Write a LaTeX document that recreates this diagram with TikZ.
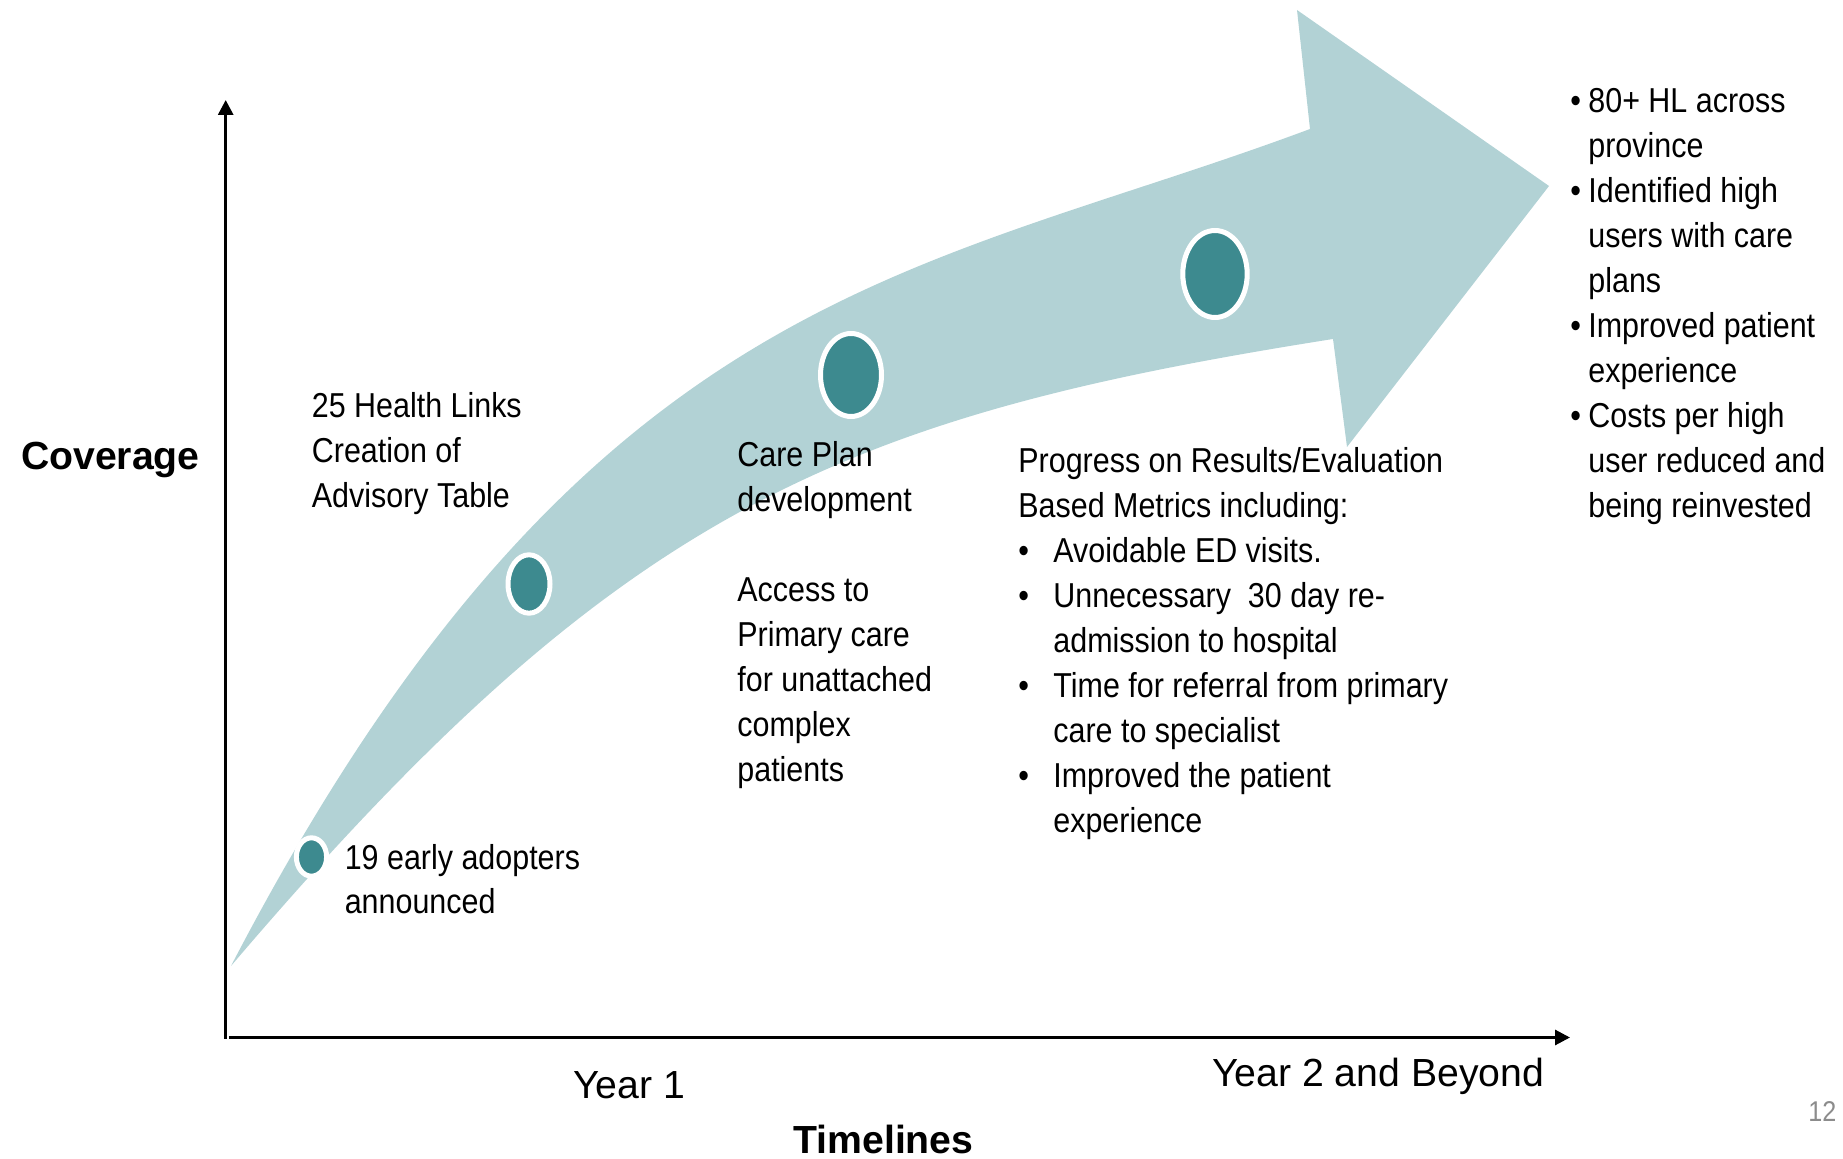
\documentclass[tikz,border=0pt]{standalone}
\usepackage{fontspec}
\setmainfont{Liberation Sans}
\newfontfamily\narrowfont{Liberation Sans}[FakeStretch=0.88]
\usetikzlibrary{arrows.meta,shapes.geometric}
\definecolor{bandc}{HTML}{B2D2D5}
\definecolor{dotc}{HTML}{3D8A8F}
\definecolor{pgnum}{HTML}{8C8C8C}
\newcommand{\mbul}{\makebox[17.5pt][l]{•}}
\newcommand{\mind}{\hspace*{17.5pt}}
\newcommand{\rbul}{\makebox[9pt][l]{•}}
\newcommand{\rind}{\hspace*{9pt}}
\begin{document}
\begin{tikzpicture}[x=0.5pt,y=-0.5pt,
  txt/.style={font=\narrowfont\fontsize{17.3}{22.45}\selectfont, inner sep=0, align=left, anchor=base west},
  big/.style={font=\fontsize{19.6}{23}\selectfont, inner sep=0, anchor=base west},
  bigb/.style={font=\bfseries\fontsize{19.6}{23}\selectfont, inner sep=0, anchor=base west},
  pgs/.style={font=\narrowfont\fontsize{14.3}{17}\selectfont, text=pgnum, inner sep=0, anchor=base west},
  dot/.style={ellipse, fill=dotc, draw=white, line width=2.5pt, inner sep=0, outer sep=0},
  axis/.style={line width=1.5pt, -{Triangle[length=7.5pt,width=7.5pt]}}]
\useasboundingbox (0,0) rectangle (1843,1159);

% curved arrow band
\fill[bandc] (231,966) .. controls (585,285) and (916,276) .. (1310,129)
  -- (1297,10) -- (1549,186) -- (1347,447) -- (1333,339)
  .. controls (839,417) and (620,509) .. (231,966) -- cycle;

% milestone dots
\node[dot, minimum width=15.1pt, minimum height=19.2pt] (d1) at (311.5,857) {};
\node[dot, minimum width=21pt, minimum height=29.2pt] (d2) at (529,584) {};
\node[dot, minimum width=30.5pt, minimum height=41.5pt] (d3) at (851,375) {};
\node[dot, minimum width=32.2pt, minimum height=43.5pt] (d4) at (1215,274) {};

% axes
\coordinate (o1) at (225.7,1038.5);
\coordinate (ytop) at (225.7,100);
\coordinate (o2) at (229,1037.5);
\coordinate (xend) at (1570,1037.5);
\draw[axis] (o1) -- (ytop);
\draw[axis] (o2) -- (xend);

% texts (anchor = baseline of the last line)
\node[txt] (links) at (311.5,507.3) {25 Health Links\\Creation of\\Advisory Table};
\node[txt] (adopt) at (344.4,913.9) {19 early adopters\\announced};
\node[txt] (care) at (737,781.3) {Care Plan\\development\\[22.45pt]Access to\\Primary care\\for unattached\\complex\\patients};
\node[txt] (metrics) at (1018,832.2) {Progress on Results/Evaluation\\Based Metrics including:\\\mbul Avoidable ED visits.\\\mbul Unnecessary\ \ 30 day re-\\\mind admission to hospital\\\mbul Time for referral from primary\\\mind care to specialist\\\mbul Improved the patient\\\mind experience};
\node[txt] (outcomes) at (1570,517.1) {\rbul 80+ HL across\\\rind province\\\rbul Identified high\\\rind users with care\\\rind plans\\\rbul Improved patient\\\rind experience\\\rbul Costs per high\\\rind user reduced and\\\rind being reinvested};

\node[big] (y1) at (573,1098) {Year 1};
\node[big] (y2) at (1211.7,1086) {Year 2 and Beyond};
\node[bigb] (tl) at (793,1153) {Timelines};
\node[bigb] (cov) at (20.7,470) {Coverage};
\node[pgs] (pg) at (1808,1121.7) {12};
\end{tikzpicture}
\end{document}
